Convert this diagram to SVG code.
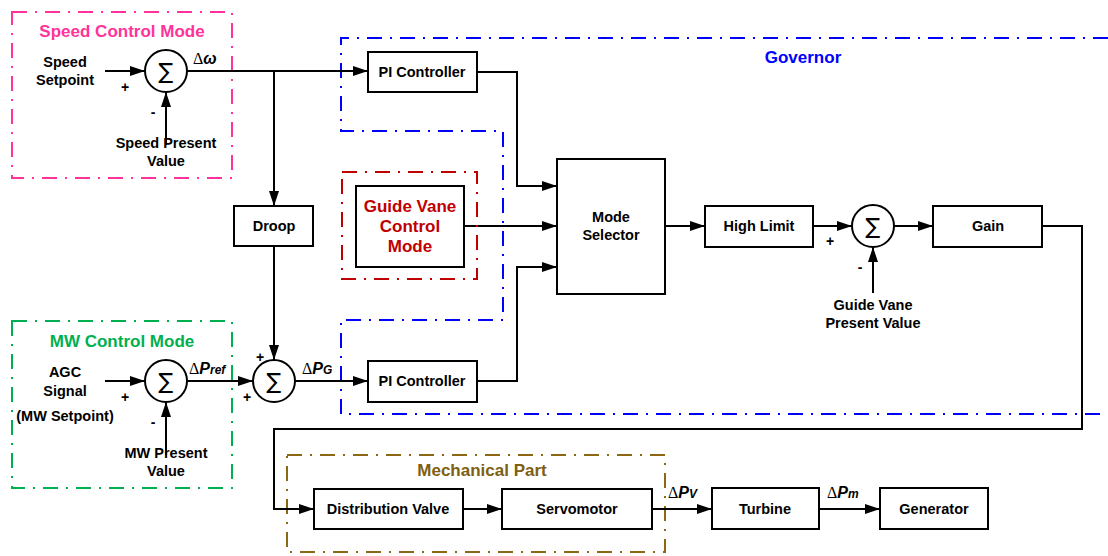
<svg xmlns="http://www.w3.org/2000/svg" width="1108" height="556" viewBox="0 0 1108 556">
<style>
text{font-family:"Liberation Sans",Arial,sans-serif;font-weight:bold;fill:#000;text-anchor:middle}
.lbl{font-size:14.5px}
.title{font-size:17px}
.sgn{font-size:14px}
.box{fill:#fff;stroke:#000;stroke-width:2}
.sum{fill:#fff;stroke:#000;stroke-width:2}
.sig{font-family:"DejaVu Sans","Liberation Sans",sans-serif;font-weight:normal;font-size:22px}
.frame{fill:none;stroke-width:2;stroke-dasharray:15 8 2 8}
.conn path{fill:none;stroke:#000;stroke-width:2}
.arr{marker-end:url(#ah)}
.dl{font-size:16px;text-anchor:start}
.dl .d{font-family:"Liberation Serif",serif;font-weight:normal;font-style:normal}
.dl .v{font-style:italic}
.dl .s{font-style:italic;font-size:12px}
</style>
<defs>
<marker id="ah" markerWidth="15" markerHeight="10" refX="15" refY="5" orient="auto" markerUnits="userSpaceOnUse">
<path d="M0,0 L15,5 L0,10 z" fill="#000"/>
</marker>
</defs>
<rect width="1108" height="556" fill="#fff"/>

<!-- frames -->
<g id="speed-mode">
<rect class="frame" x="12" y="12" width="220" height="166" stroke="#FF3399"/>
<text class="title" x="122" y="37" style="fill:#FF3399">Speed Control Mode</text>
</g>
<g id="mw-mode">
<rect class="frame" x="12" y="321" width="220" height="167" stroke="#00B050"/>
<text class="title" x="122" y="347" style="fill:#00B050">MW Control Mode</text>
</g>
<g id="governor">
<path class="frame" d="M1108,38 H341 V131 H503 V320 H341 V414 H1108" stroke="#0000FF"/>
<text class="title" x="803" y="63" style="fill:#0000FF">Governor</text>
</g>
<g id="mechanical">
<rect class="frame" x="287" y="455" width="378" height="97" stroke="#8B6914"/>
<text class="title" x="482" y="476" style="fill:#806010">Mechanical Part</text>
</g>

<!-- connectors -->
<g id="connectors" class="conn">
<path class="arr" d="M105,71 H145"/>
<path class="arr" d="M166,145 V92"/>
<path class="arr" d="M187,71 H368"/>
<path class="arr" d="M274,71 V206"/>
<path class="arr" d="M274,246 V360"/>
<path class="arr" d="M105,381 H145"/>
<path class="arr" d="M166,455 V402"/>
<path class="arr" d="M187,381 H253"/>
<path class="arr" d="M295,381 H368"/>
<path class="arr" d="M477,72 H517 V186 H557"/>
<path class="arr" d="M464,226 H557"/>
<path class="arr" d="M477,381 H517 V267 H557"/>
<path class="arr" d="M665,226 H705"/>
<path class="arr" d="M813,226 H852"/>
<path class="arr" d="M873,293 V247"/>
<path class="arr" d="M894,226 H933"/>
<path class="arr" d="M1042,226 H1082 V429 H274 V509 H314"/>
<path class="arr" d="M463,509 H502"/>
<path class="arr" d="M652,509 H712"/>
<path class="arr" d="M819,509 H880"/>
</g>

<!-- speed sum -->
<g id="sum-speed">
<circle class="sum" cx="166" cy="71" r="21"/>
<text class="sig" x="166" y="79">∑</text>
<text class="sgn" x="125" y="92">+</text>
<text class="sgn" x="153" y="117">-</text>
</g>
<g id="speed-setpoint">
<text class="lbl" x="65" y="67">Speed</text>
<text class="lbl" x="65" y="85">Setpoint</text>
</g>
<g id="speed-present">
<text class="lbl" x="166" y="148">Speed Present</text>
<text class="lbl" x="166" y="166">Value</text>
</g>
<text class="dl" x="193" y="64"><tspan class="d">Δ</tspan><tspan class="v">ω</tspan></text>

<!-- MW sum -->
<g id="sum-mw">
<circle class="sum" cx="166" cy="381" r="21"/>
<text class="sig" x="166" y="389">∑</text>
<text class="sgn" x="125" y="402">+</text>
<text class="sgn" x="153" y="427">-</text>
</g>
<g id="agc">
<text class="lbl" x="65" y="377">AGC</text>
<text class="lbl" x="65" y="396">Signal</text>
<text class="lbl" x="65" y="421">(MW Setpoint)</text>
</g>
<g id="mw-present">
<text class="lbl" x="166" y="458">MW Present</text>
<text class="lbl" x="166" y="476">Value</text>
</g>
<text class="dl" x="189" y="374"><tspan class="d">Δ</tspan><tspan class="v">P</tspan><tspan class="s">ref</tspan></text>

<!-- sum 2 -->
<g id="sum-p">
<circle class="sum" cx="274" cy="381" r="21"/>
<text class="sig" x="274" y="389">∑</text>
<text class="sgn" x="260" y="362">+</text>
<text class="sgn" x="247" y="402">+</text>
</g>
<text class="dl" x="302" y="374"><tspan class="d">Δ</tspan><tspan class="v">P</tspan><tspan class="s">G</tspan></text>

<g id="droop">
<rect class="box" x="234" y="206" width="79" height="40"/>
<text class="lbl" x="274" y="231">Droop</text>
</g>

<g id="pi-top">
<rect class="box" x="368" y="52" width="109" height="40"/>
<text class="lbl" x="422" y="77">PI Controller</text>
</g>
<g id="pi-bottom">
<rect class="box" x="368" y="361" width="109" height="41"/>
<text class="lbl" x="422" y="386">PI Controller</text>
</g>

<g id="guide-vane-mode">
<rect class="frame" x="342" y="172" width="135" height="107" stroke="#C00000"/>
<rect class="box" x="356" y="186" width="108" height="81"/>
<text class="title" x="410" y="212" style="fill:#C00000">Guide Vane</text>
<text class="title" x="410" y="232" style="fill:#C00000">Control</text>
<text class="title" x="410" y="252" style="fill:#C00000">Mode</text>
</g>

<g id="mode-selector">
<rect class="box" x="557" y="159" width="108" height="135"/>
<text class="lbl" x="611" y="222">Mode</text>
<text class="lbl" x="611" y="240">Selector</text>
</g>

<g id="high-limit">
<rect class="box" x="705" y="206" width="108" height="41"/>
<text class="lbl" x="759" y="231">High Limit</text>
</g>

<g id="sum-gv">
<circle class="sum" cx="873" cy="226" r="21"/>
<text class="sig" x="873" y="234">∑</text>
<text class="sgn" x="830" y="246">+</text>
<text class="sgn" x="860" y="272">-</text>
</g>
<g id="gv-present">
<text class="lbl" x="873" y="310">Guide Vane</text>
<text class="lbl" x="873" y="328">Present Value</text>
</g>

<g id="gain">
<rect class="box" x="933" y="206" width="109" height="41"/>
<text class="lbl" x="988" y="231">Gain</text>
</g>

<g id="distribution-valve">
<rect class="box" x="314" y="489" width="149" height="40"/>
<text class="lbl" x="388" y="514">Distribution Valve</text>
</g>
<g id="servomotor">
<rect class="box" x="502" y="489" width="150" height="40"/>
<text class="lbl" x="577" y="514">Servomotor</text>
</g>
<text class="dl" x="668" y="498"><tspan class="d">Δ</tspan><tspan class="v">P</tspan><tspan class="s">V</tspan></text>
<g id="turbine">
<rect class="box" x="712" y="488" width="107" height="41"/>
<text class="lbl" x="765" y="514">Turbine</text>
</g>
<text class="dl" x="827" y="498"><tspan class="d">Δ</tspan><tspan class="v">P</tspan><tspan class="s">m</tspan></text>
<g id="generator">
<rect class="box" x="880" y="488" width="108" height="41"/>
<text class="lbl" x="934" y="514">Generator</text>
</g>
</svg>
